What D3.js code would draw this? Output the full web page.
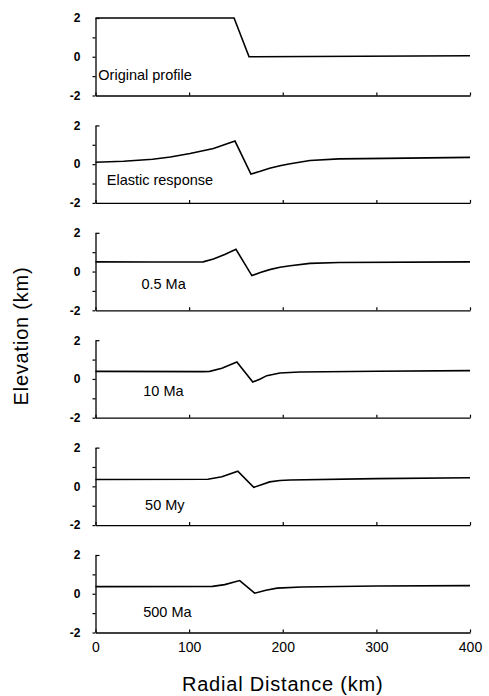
<!DOCTYPE html>
<html>
<head>
<meta charset="utf-8">
<script src="https://cdn.jsdelivr.net/npm/d3@7"></script>
<style>
  body { margin: 0; background: #fff; }
  text { font-family: "Liberation Sans", Arial, Helvetica, sans-serif; fill: #000; }
</style>
</head>
<body>
<div id="chart"></div>
<script>
// profiles: [radial distance km, elevation km]
const originalProfile = [[0, 2], [148, 2], [164, 0], [400, 0.05]];
const elasticResponse = [[0, 0.1], [30, 0.15], [61, 0.25], [80, 0.37], [101, 0.55], [126, 0.81],
  [149, 1.19], [166, -0.51], [176, -0.37], [186, -0.21], [197, -0.08], [208, 0.02],
  [229, 0.19], [260, 0.27], [310, 0.3], [400, 0.35]];
const ma05 = [[0, 0.5], [60, 0.49], [115, 0.5], [126, 0.65], [138, 0.88], [150, 1.15],
  [167, -0.21], [176, -0.05], [186, 0.1], [197, 0.22], [208, 0.3], [229, 0.42],
  [260, 0.47], [400, 0.5]];
const ma10 = [[0, 0.39], [115, 0.38], [122, 0.39], [135, 0.55], [151, 0.88], [168, -0.16],
  [176, 0.0], [183, 0.17], [197, 0.31], [218, 0.36], [300, 0.4], [400, 0.43]];
const my50 = [[0, 0.35], [120, 0.37], [135, 0.5], [152, 0.78], [169, -0.05], [178, 0.1],
  [186, 0.23], [197, 0.3], [208, 0.33], [300, 0.4], [400, 0.44]];
const ma500 = [[0, 0.37], [125, 0.38], [138, 0.47], [154, 0.68], [170, 0.03], [182, 0.18],
  [194, 0.29], [220, 0.35], [300, 0.4], [400, 0.42]];

const profiles = [originalProfile, elasticResponse, ma05, ma10, my50, ma500];
const panelLabels = ["Original profile", "Elastic response", "0.5 Ma", "10 Ma", "50 My", "500 Ma"];
// where each label sits, in data units (km, km)
const labelKm = [3, 12, 49, 51, 53, 51];
const labelElev = [-1.2, -1.1, -0.9, -0.9, -1.2, -1.2];

const xTicks = [0, 100, 200, 300, 400];
const yTicks = [-2, -1, 0, 1, 2];

const WIDTH = 489, HEIGHT = 696;
const PANEL_TOP = 18, PANEL_STEP = 107.4, PANEL_H = 77.5;

const svg = d3.select('#chart').append('svg')
  .attr('width', WIDTH)
  .attr('height', HEIGHT)
  .style('background', '#fff');

const x = d3.scaleLinear().domain([0, 400]).range([95.5, 470]);
const y = d3.scaleLinear().domain([-2, 2]).range([PANEL_H, 0]);

const line = d3.line()
  .x(d => x(d[0]))
  .y(d => y(d[1]));

profiles.forEach((data, i) => {
  const g = svg.append('g')
    .attr('transform', 'translate(0,' + (PANEL_TOP + i * PANEL_STEP) + ')');
  const last = i === profiles.length - 1;

  // bottom axis, ticks pointing up
  const xa = g.append('g')
    .attr('transform', 'translate(0,' + PANEL_H + ')')
    .call(d3.axisBottom(x).tickValues(xTicks).tickSizeInner(-3).tickSizeOuter(0)
      .tickPadding(10).tickFormat(last ? d3.format('d') : ''));
  xa.select('.domain').attr('stroke-width', 1.3);
  xa.selectAll('.tick line').attr('stroke-width', 1.2);
  xa.selectAll('.tick text').style('font-size', '14px').style('font-family', null);

  // left axis
  const ya = g.append('g')
    .attr('transform', 'translate(' + x(0) + ',0)')
    .call(d3.axisLeft(y).tickValues(yTicks).tickSizeInner(3).tickSizeOuter(0)
      .tickPadding(12).tickFormat(d => d % 2 === 0 ? d : ''));
  ya.select('.domain').attr('stroke-width', 1.3);
  ya.selectAll('.tick line').attr('stroke-width', 1.2)
    .filter(d => d === 2).attr('x2', 4);
  ya.selectAll('.tick text')
    .style('font-size', '12px').style('font-weight', 'bold').style('font-family', null);

  g.append('path').datum(data)
    .attr('fill', 'none')
    .attr('stroke', '#000')
    .attr('stroke-width', 1.6)
    .attr('stroke-linejoin', 'miter')
    .attr('d', line);

  g.append('text')
    .attr('x', x(labelKm[i]))
    .attr('y', y(labelElev[i]))
    .style('font-size', '14.5px')
    .text(panelLabels[i]);
});

svg.append('text')
  .attr('x', x(200))
  .attr('y', 691)
  .attr('text-anchor', 'middle')
  .style('font-size', '20px')
  .style('letter-spacing', '0.8px')
  .text('Radial Distance (km)');

svg.append('text')
  .attr('transform', 'translate(28,336) rotate(-90)')
  .attr('text-anchor', 'middle')
  .style('font-size', '20px')
  .style('letter-spacing', '0.8px')
  .text('Elevation (km)');
</script>
</body>
</html>
